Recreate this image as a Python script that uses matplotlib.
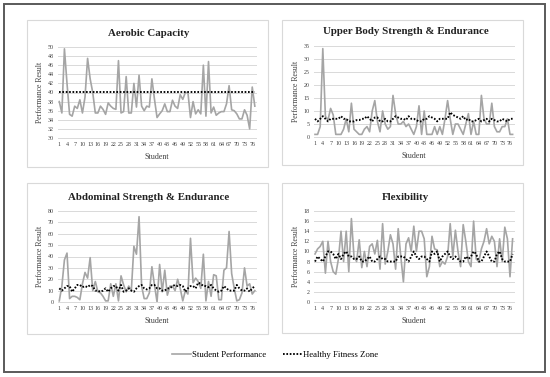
import matplotlib
matplotlib.use("Agg")
import matplotlib.pyplot as plt
from matplotlib.lines import Line2D
from matplotlib.patches import Rectangle

plt.rcParams['font.family'] = ['Liberation Serif', 'DejaVu Serif']

students = list(range(1, 78))
xtick_labels = list(range(1, 77, 3))

aerobic_perf = [38, 35.5, 49.6, 42, 35.2, 34.8, 37, 36.5, 38.4, 35.5,
                39, 47.5, 43, 40, 35.5, 35.5, 37, 36.3, 35.2, 37.7,
                37, 36.5, 36.3, 47, 35.5, 35.8, 43.5, 35.5, 35.5, 42,
                36.8, 43.8, 37, 36, 37, 36.8, 43, 38.5, 34.5, 35.3,
                36, 37.5, 35.8, 35.8, 38.3, 37, 36.5, 39.5, 38.5, 40,
                40, 34.5, 38, 35.3, 36.2, 35.3, 46, 34.8, 46.8, 35.5,
                36.8, 35, 35.5, 35.8, 35.8, 37.5, 41.5, 36.2, 36, 35.3,
                34.2, 34.2, 36.2, 35, 32, 41.2, 37]
aerobic_hfz_value = 40.2

upper_perf = [1, 1, 4, 34, 8, 6.5, 11, 8.5, 1, 1,
              1, 3, 7, 2, 13, 3, 2, 1, 1, 3,
              4, 2, 10, 14, 6, 2, 10, 5, 3, 4,
              16, 9, 5, 5, 6, 4, 5, 3, 1, 4,
              12, 1, 10, 1, 1, 1, 4, 1, 4, 1,
              7, 14, 7, 1, 5, 5, 3, 1, 5, 9,
              1, 6, 1, 1, 16, 7, 5, 5, 13, 4,
              2, 2, 4, 4, 7, 1, 1]
upper_hfz = [7, 6, 7, 8, 7, 6, 7, 7, 7, 7,
             8, 7, 7, 6, 6, 6, 6.5, 6.5, 7, 7,
             8, 7, 6, 7.5, 7.5, 6, 6, 7, 6, 6,
             7, 8, 7.5, 7, 7, 6.5, 8, 7, 7, 6.5,
             6, 6, 7, 7, 8, 7.5, 7, 6, 7, 7,
             7, 7, 9.5, 8.5, 8, 7.5, 7, 8, 6.5, 7,
             6, 6, 6.5, 7, 6, 6.5, 7, 6, 7, 6.5,
             6, 6, 7, 6.5, 6, 7, 7]

abdominal_perf = [1, 14, 37, 43, 3, 5, 5, 4, 2, 16,
                  26, 21, 39, 10, 18, 9, 8, 5, 1, 1,
                  16, 5, 16, 1, 23, 15, 9, 14, 10, 49,
                  42, 75, 14, 3, 3, 8, 31, 15, 0, 33,
                  9, 28, 6, 14, 14, 10, 20, 12, 1, 10,
                  7, 56, 17, 21, 18, 12, 42, 1, 18, 5,
                  24, 23, 2, 2, 28, 30, 62, 25, 12, 1,
                  2, 8, 30, 14, 16, 7, 10]
abdominal_hfz = [12, 10, 12, 14, 14, 9, 12, 15, 15, 13,
                 14, 13, 15, 14, 10, 10, 9, 10, 12, 9,
                 12, 14, 14, 10, 15, 9, 10, 12, 10, 9,
                 12, 14, 15, 12, 11, 12, 15, 15, 12, 12,
                 10, 10, 12, 12, 14, 15, 14, 15, 14, 9,
                 12, 14, 14, 12, 17, 16, 14, 14, 13, 15,
                 12, 10, 9, 10, 14, 12, 10, 10, 10, 15,
                 12, 10, 10, 12, 9, 12, 14]

flex_perf = [9.5, 10.5, 11, 12, 5.7, 12, 8, 6, 5.5, 8.5,
             14, 8, 14, 6, 16.5, 9, 8, 12.3, 6.8, 10,
             7, 11, 11.5, 9.5, 12.2, 6.5, 15.5, 7.5, 10, 13.3,
             11.5, 6.5, 14.5, 9, 4, 11.5, 12.7, 10, 15, 10,
             14, 14, 12.5, 5, 7, 13, 10.5, 10.3, 7, 8,
             7.5, 9, 15.5, 9, 14.2, 10, 7, 15.3, 12, 8,
             7, 16, 8.5, 8, 10.5, 12, 14.5, 11.5, 13, 12,
             7, 12.5, 8, 14.8, 12.5, 5, 12.5]
flex_hfz = [8, 9, 8.5, 8, 9, 10, 10, 9.5, 8.5, 9.5,
            8.5, 9.5, 10, 9, 9, 8.5, 8.5, 9, 8, 8,
            8.5, 9, 8, 8, 8.5, 9, 8.5, 8.5, 8, 8,
            8, 8, 9, 9, 9, 8.5, 8, 9, 10, 9,
            8.5, 9, 9, 8.5, 8, 10, 9.5, 10, 8, 9,
            9.5, 10, 9, 8.5, 9, 8.5, 8, 8, 9, 8.5,
            9, 10, 9.5, 8, 8, 9, 10, 9, 8, 8,
            9.5, 10, 8.5, 8, 8, 8, 9.5]

titles = ["Aerobic Capacity", "Upper Body Strength & Endurance",
          "Abdominal Strength & Endurance", "Flexibility"]
y_ranges = [(30, 50, 2), (0, 35, 5), (0, 80, 10), (0, 18, 2)]
legend_labels = ["Student Performance", "Healthy Fitness Zone"]

W, H = 550, 377
fig = plt.figure(figsize=(W / 100, H / 100), dpi=100)
fig.patch.set_facecolor("white")

def fx(x):
    return x / W

def fy(y):
    return 1 - y / H

# outer frame
fig.add_artist(Rectangle((fx(4), fy(372)), fx(545) - fx(4), fy(4) - fy(372),
                         transform=fig.transFigure, fill=False,
                         edgecolor="#5a5a5a", lw=1.4))

GRAY = "#A5A5A5"
GRID = "#D9D9D9"

# panel geometry in pixels: (box_l, box_t, box_r, box_b, ax_l, ax_r, ax_t, ax_b)
panels = [
    (27, 20, 268, 167, 58.0, 256.1, 47, 138),
    (282, 20, 523, 165, 313.7, 513.9, 46, 137),
    (27, 183, 268, 334, 58.0, 256.1, 211, 302),
    (282, 183, 523, 333, 313.7, 513.9, 211, 302),
]
perf_series = [aerobic_perf, upper_perf, abdominal_perf, flex_perf]
hfz_series = [[aerobic_hfz_value] * len(students), upper_hfz, abdominal_hfz, flex_hfz]

for i, (bl, bt, br, bb, al, ar, at, ab) in enumerate(panels):
    fig.add_artist(Rectangle((fx(bl), fy(bb)), fx(br) - fx(bl), fy(bt) - fy(bb),
                             transform=fig.transFigure, fill=False,
                             edgecolor=GRID, lw=0.8))
    ax = fig.add_axes([fx(al), fy(ab), fx(ar) - fx(al), fy(at) - fy(ab)])
    ymin, ymax, step = y_ranges[i]
    yt = list(range(ymin, ymax + 1, step))
    for v in yt:
        ax.axhline(v, color=GRID, lw=0.7, zorder=0, clip_on=False)
    ax.plot(students, perf_series[i], color=GRAY, lw=1.2, zorder=2)
    ax.plot(students, hfz_series[i], color="black", lw=1.35,
            linestyle=(0, (0.9, 0.9)), zorder=3)
    ax.set_xlim(0.5, 77.5)
    ax.set_ylim(ymin, ymax)
    ax.set_yticks(yt)
    ax.set_xticks(xtick_labels)
    ax.set_xticklabels([str(t) for t in xtick_labels])
    ax.tick_params(axis="both", length=0, labelsize=4.3, colors="#404040", pad=3)
    for s in ax.spines.values():
        s.set_visible(False)
    ax.set_facecolor("none")
    fig.text(fx((al + ar) / 2 - 8), fy(at - 14), titles[i], ha="center", va="center",
             fontsize=7.8, fontweight="bold", color="#222222")
    ax.set_ylabel("Performance Result", fontsize=5.6, color="#404040", labelpad=2.5)
    ax.set_xlabel("Student", fontsize=5.8, color="#404040", labelpad=4)

handles = [Line2D([0], [0], color=GRAY, lw=1.2),
           Line2D([0], [0], color="black", lw=1.35, linestyle=(0, (0.9, 0.9)))]
fig.legend(handles, legend_labels, loc="center", bbox_to_anchor=(0.5, fy(355)),
           ncol=2, frameon=False, fontsize=6.3, handlelength=2.2,
           handletextpad=0.1, columnspacing=2.0)

fig.savefig("out.png", dpi=100)
